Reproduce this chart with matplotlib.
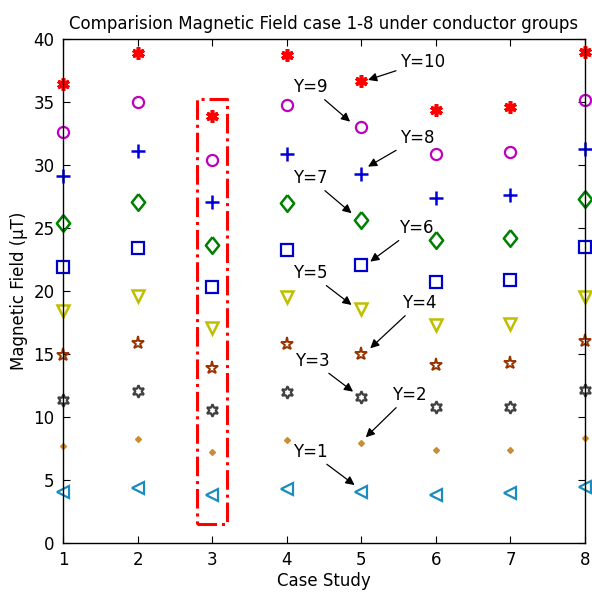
import matplotlib
matplotlib.use("Agg")
import matplotlib.pyplot as plt

plt.rcParams['font.family'] = ['DejaVu Sans']

# ── Data: magnetic field (uT) per conductor group Y=1..10, case 1-8 ──
cases = [1, 2, 3, 4, 5, 6, 7, 8]
y1 = [4.07, 4.34, 3.80, 4.26, 4.07, 3.80, 3.95, 4.47]
y2 = [7.70, 8.25, 7.25, 8.17, 7.90, 7.40, 7.40, 8.30]
y3 = [11.35, 12.10, 10.55, 12.00, 11.55, 10.80, 10.80, 12.15]
y4 = [14.90, 15.85, 13.85, 15.80, 15.00, 14.10, 14.25, 16.00]
y5 = [18.40, 19.60, 17.10, 19.55, 18.55, 17.30, 17.40, 19.55]
y6 = [21.90, 23.40, 20.35, 23.25, 22.10, 20.70, 20.90, 23.50]
y7 = [25.40, 27.10, 23.65, 27.00, 25.60, 24.05, 24.20, 27.30]
y8 = [29.15, 31.10, 27.10, 30.90, 29.30, 27.40, 27.60, 31.25]
y9 = [32.65, 35.00, 30.40, 34.75, 33.00, 30.85, 31.05, 35.15]
y10 = [36.40, 38.90, 33.90, 38.70, 36.70, 34.40, 34.60, 39.00]

labels = ["Y=1", "Y=2", "Y=3", "Y=4", "Y=5", "Y=6", "Y=7", "Y=8", "Y=9", "Y=10"]
series = [y1, y2, y3, y4, y5, y6, y7, y8, y9, y10]

fig = plt.figure(figsize=(5.92, 5.95), dpi=100)
ax = fig.add_axes([0.1064, 0.0874, 0.8818, 0.8471])

diamond = [(0, 1), (0.8, 0), (0, -1), (-0.8, 0), (0, 1)]

# marker, colour, size, edge width, filled
styles = [
    ('<', (0.10, 0.55, 0.75), 8, 1.6, False),
    ('D', (0.80, 0.55, 0.20), 3, 1.0, True),
    ((6, 1, 0), (0.25, 0.25, 0.25), 9, 1.6, False),
    ('*', (0.60, 0.20, 0.00), 9.5, 1.4, False),
    ('v', (0.75, 0.75, 0.00), 9, 1.8, False),
    ('s', (0.00, 0.00, 0.80), 9, 1.6, False),
    (diamond, (0.00, 0.50, 0.00), 12, 1.8, False),
    ('+', (0.00, 0.00, 0.85), 10, 1.8, False),
    ('o', (0.75, 0.00, 0.75), 8, 1.6, False),
    ((6, 2, 0), (1.00, 0.00, 0.00), 9, 2.6, False),
]

for vals, (mk, col, ms, mew, filled) in zip(series, styles):
    ax.plot(cases, vals, linestyle='none', marker=mk, markersize=ms,
            markeredgewidth=mew, color=col,
            markerfacecolor=col if filled else 'none', clip_on=False)

# ── Highlight of case 3 ──
ax.plot([2.80, 3.20, 3.20, 2.80, 2.80], [1.5, 1.5, 35.2, 35.2, 1.5],
        color='red', linestyle='-.', linewidth=2.2)

# ── Annotations on case 5 ──
ann_text = [(4.08, 7.25), (5.41, 11.75), (4.11, 14.47), (5.54, 19.05), (4.08, 21.43),
            (5.50, 25.00), (4.08, 28.97), (5.52, 32.14), (4.08, 36.19), (5.52, 38.17)]
ann_head = [(4.91, 4.60), (5.06, 8.39), (4.89, 12.01), (5.12, 15.45), (4.87, 18.89),
            (5.12, 22.33), (4.87, 26.17), (5.09, 29.87), (4.85, 33.44), (5.09, 36.75)]
for lab, txt, head in zip(labels, ann_text, ann_head):
    ax.annotate(lab, xy=head, xytext=txt, ha='left', va='center', fontsize=12,
                arrowprops=dict(arrowstyle='-|>', color='black', lw=0.9,
                                mutation_scale=13, shrinkA=1, shrinkB=0))

ax.set_xlim(1, 8)
ax.set_ylim(0, 40)
ax.set_xticks(cases)
ax.set_yticks(range(0, 41, 5))
ax.tick_params(direction='in', top=True, right=True, labelsize=12, length=5, pad=6)
for sp in ax.spines.values():
    sp.set_linewidth(1.0)

ax.set_title("Comparision Magnetic Field case 1-8 under conductor groups", fontsize=12, pad=7)
ax.set_xlabel("Case Study", fontsize=12, labelpad=2)
ax.set_ylabel("Magnetic Field (\u03bcT)", fontsize=12, labelpad=4)

fig.savefig("out.png", dpi=100)
